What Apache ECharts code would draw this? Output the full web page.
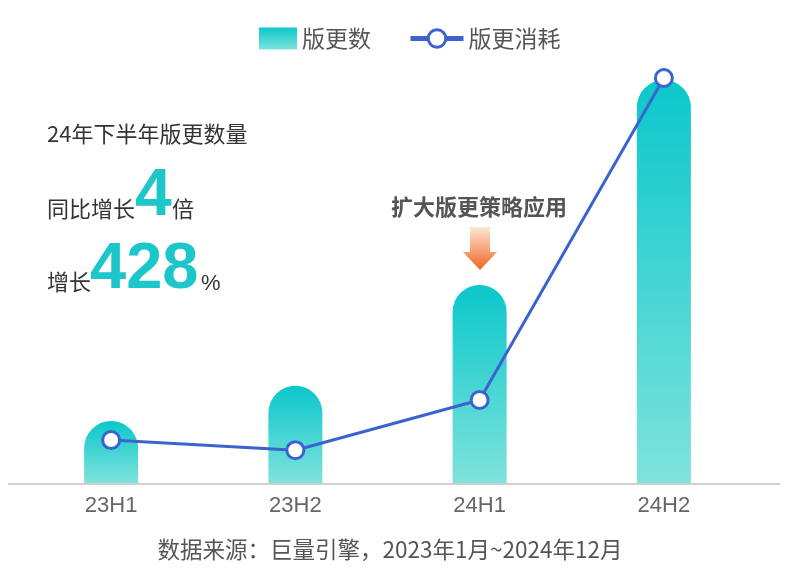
<!DOCTYPE html>
<html>
<head>
<meta charset="utf-8">
<script src="https://cdn.jsdelivr.net/npm/echarts@6/dist/echarts.min.js"></script>
<style>
html, body { margin: 0; padding: 0; background: #fff; }
#main { width: 786px; height: 571px; }
</style>
</head>
<body>
<div id="main"></div>
<script>
// 数据 (按图中高度估算, 相对值)
var categories = ['23H1', '23H2', '24H1', '24H2'];
var countValues = [15.3, 24.0, 48.9, 99.5];   // 版更数
var costValues = [10.6, 8.1, 20.5, 100];      // 版更消耗

var font = '"Noto Sans CJK SC", "Noto Sans", sans-serif';
var numFont = '"Liberation Sans", Arial, sans-serif';
var teal = '#1cc6ca';
var myChart = echarts.init(document.getElementById('main'));

var barColor = new echarts.graphic.LinearGradient(0, 0, 0, 1, [
    { offset: 0, color: '#0bc7cb' },
    { offset: 1, color: '#7fe3dc' }
]);

function txt(x, y, text, size, color, family, weight, align) {
    return {
        type: 'text', x: x, y: y,
        style: {
            text: text, fontSize: size, fill: color, fontFamily: family,
            fontWeight: weight || 'normal', textAlign: align || 'left', textVerticalAlign: 'middle'
        }
    };
}

var option = {
    textStyle: { fontFamily: font },
    animation: false,
    legend: [
        {
            left: 254,
            top: 22,
            itemWidth: 38,
            itemHeight: 22,
            textStyle: { fontSize: 23, color: '#555', fontFamily: font },
            data: [{ name: '版更数', icon: 'rect' }]
        },
        {
            left: 403,
            top: 22,
            itemWidth: 53,
            itemHeight: 22,
            itemGap: 6,
            lineStyle: { width: 5 },
            itemStyle: { borderWidth: 3 },
            textStyle: { fontSize: 23, color: '#555', fontFamily: font },
            data: ['版更消耗']
        }
    ],
    grid: { left: 19, right: 30, top: 78, bottom: 88 },
    xAxis: {
        type: 'category',
        data: categories,
        axisLine: { show: false },
        axisTick: { show: false },
        axisLabel: { fontSize: 22, color: '#666', margin: 12, fontFamily: numFont }
    },
    yAxis: [
        { type: 'value', min: 0, max: 100, show: false },
        { type: 'value', min: 0, max: 100, show: false }
    ],
    graphic: [
        {
            type: 'line', z: 1,
            shape: { x1: 8, y1: 484, x2: 780, y2: 484 },
            style: { stroke: '#d0d0d0', lineWidth: 2 }
        },
        txt(47, 134, '24年下半年版更数量', 22, '#333', font),
        txt(47, 209, '同比增长', 22, '#333', font),
        txt(135, 197, '4', 66, teal, numFont, 'bold'),
        txt(172, 209, '倍', 22, '#333', font),
        txt(47, 282, '增长', 22, '#333', font),
        txt(90, 270, '428', 65, teal, numFont, 'bold'),
        txt(201, 284, '%', 22, '#333', numFont),
        txt(479, 207, '扩大版更策略应用', 22, '#555', font, 'bold', 'center'),
        {
            type: 'polygon',
            shape: { points: [[470, 227], [490, 227], [490, 252], [497, 252], [480, 270], [463, 252], [470, 252]] },
            style: {
                fill: new echarts.graphic.LinearGradient(0, 0, 0, 1, [
                    { offset: 0, color: '#fde6d4' },
                    { offset: 1, color: '#f26522' }
                ])
            }
        },
        txt(390, 549, '数据来源：巨量引擎，2023年1月~2024年12月', 22.5, '#555', font, 'normal', 'center')
    ],
    series: [
        {
            name: '版更数',
            type: 'bar',
            barWidth: 54,
            data: countValues,
            itemStyle: { color: barColor, borderRadius: [27, 27, 0, 0] }
        },
        {
            name: '版更消耗',
            type: 'line',
            yAxisIndex: 1,
            data: costValues,
            symbol: 'circle',
            symbolSize: 17,
            lineStyle: { color: '#3b63cf', width: 3 },
            itemStyle: { color: '#ffffff', borderColor: '#3b63cf', borderWidth: 3 }
        }
    ]
};
myChart.setOption(option);
</script>
</body>
</html>
